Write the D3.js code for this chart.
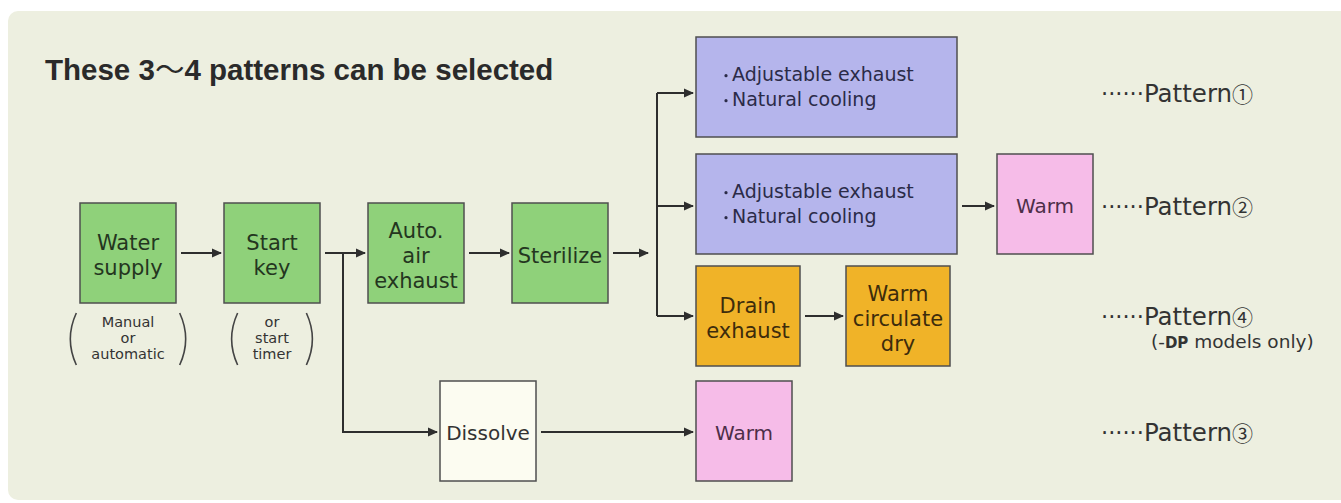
<!DOCTYPE html>
<html>
<head>
<meta charset="utf-8">
<script src="https://cdn.jsdelivr.net/npm/d3@7"></script>
<style>
  html, body { margin: 0; padding: 0; background: #fff; }
  svg { display: block; }
</style>
</head>
<body>
<svg id="chart" width="1341" height="503"></svg>
<script>
// ---- data ----
const title = ["These 3", "～", "4 patterns can be selected"];

const mainSteps = [
    { id: "water", lines: ["Water", "supply"], col: 0 },
    { id: "start", lines: ["Start", "key"], col: 1 },
    { id: "auto", lines: ["Auto.", "air", "exhaust"], col: 2 },
    { id: "sterilize", lines: ["Sterilize"], col: 3 },
    { id: "dissolve", lines: ["Dissolve"], col: 2.5, row: "p3", kind: "plain" }
];

const branchSteps = [
    { id: "p1", lines: ["Adjustable exhaust", "Natural cooling"], kind: "cool", row: "p1", slot: "a" },
    { id: "p2", lines: ["Adjustable exhaust", "Natural cooling"], kind: "cool", row: "p2", slot: "a" },
    { id: "warm2", lines: ["Warm"], kind: "warm", row: "p2", slot: "c" },
    { id: "drain", lines: ["Drain", "exhaust"], kind: "dry", row: "p4", slot: "a" },
    { id: "circ", lines: ["Warm", "circulate", "dry"], kind: "dry", row: "p4", slot: "b" },
    { id: "warm3", lines: ["Warm"], kind: "warm", row: "p3", slot: "a" }
];

const notes = [
    { under: "water", lines: ["Manual", "or", "automatic"] },
    { under: "start", lines: ["or", "start", "timer"] }
];

// straight arrows: [from, to]
const links = [
    ["water", "start"], ["start", "auto"], ["auto", "sterilize"],
    ["p2", "warm2"], ["drain", "circ"], ["dissolve", "warm3"]
];
// forked arrows: source -> several targets
const forks = [
    { from: "start", to: ["dissolve"], joinsMain: true },
    { from: "sterilize", to: ["p1", "p2", "drain"], joinsMain: false }
];

const patterns = [
    { row: "p1", num: "①" },
    { row: "p2", num: "②" },
    { row: "p4", num: "④", note: ["(-", "DP", " models only)"] },
    { row: "p3", num: "③" }
];

// ---- layout ----
const W = 1341, H = 503;
const mainX = d3.scaleLinear().domain([0, 1]).range([80, 224]);
const slotX = d3.scaleOrdinal().domain(["a", "b", "c"]).range([696, 846, 997]);
const rowTop = d3.scaleOrdinal().domain(["p1", "p2", "main", "p4", "p3"]).range([37, 154, 203, 266, 381]);
const rowMid = d3.scaleOrdinal().domain(["p1", "p2", "main", "p4", "p3"]).range([93, 206, 253, 316, 432]);
const boxW = { green: 96, plain: 96, cool: 261, warm: 96, dry: 104 };
const boxH = 100;
const fills = { green: "#8fd17a", plain: "#fcfcf1", cool: "#b5b5ec", warm: "#f6bce8", dry: "#f0b328" };
const inks = { green: "#24361f", plain: "#333333", cool: "#2b2b48", warm: "#4d2e48", dry: "#3d2c0c" };
const fontSize = { green: 21, plain: 20, cool: 19, warm: 20, dry: 21 };
const LATIN = "'DejaVu Sans', 'Noto Sans', sans-serif";
const CJK = "'Noto Sans CJK JP', 'DejaVu Sans', sans-serif";
const LINE = "#2e2e2e";

const boxes = new Map();
mainSteps.forEach(d => {
    const kind = d.kind || "green", row = d.row || "main";
    boxes.set(d.id, { ...d, kind, row, x: mainX(d.col), y: rowTop(row), w: boxW[kind], h: boxH });
});
branchSteps.forEach(d => {
    boxes.set(d.id, { ...d, x: slotX(d.slot), y: rowTop(d.row), w: boxW[d.kind], h: boxH });
});

const svg = d3.select("#chart").attr("viewBox", `0 0 ${W} ${H}`);

svg.append("defs").append("marker")
    .attr("id", "head")
    .attr("viewBox", "0 0 10 10")
    .attr("refX", 9).attr("refY", 5)
    .attr("markerUnits", "userSpaceOnUse")
    .attr("markerWidth", 10).attr("markerHeight", 10)
    .attr("orient", "auto")
    .append("path").attr("d", "M0,0.5 L10,5 L0,9.5 Z").attr("fill", LINE);

// panel
svg.append("rect").attr("x", 0).attr("y", 0).attr("width", W).attr("height", H).attr("fill", "#ffffff");
svg.append("rect")
    .attr("x", 8).attr("y", 11).attr("width", W + 20).attr("height", 489)
    .attr("rx", 10).attr("fill", "#edefe0");

// title
const t = svg.append("text")
    .attr("x", 45).attr("y", 80)
    .attr("font-family", "'Liberation Sans', Arial, sans-serif")
    .attr("font-weight", "bold").attr("font-size", 29.5).attr("fill", "#2a2a2a");
t.append("tspan").text(title[0]);
t.append("tspan").attr("font-family", CJK).attr("font-weight", "normal").text(title[1]);
t.append("tspan").text(title[2]);

// arrows
const g = svg.append("g").attr("fill", "none").attr("stroke", LINE).attr("stroke-width", 2);
const mid = b => rowMid(b.row);

links.forEach(([a, b]) => {
    const s = boxes.get(a), e = boxes.get(b);
    const y = mid(s);
    g.append("path")
        .attr("d", d3.line()([[s.x + s.w + 5, y], [e.x - 3, y]]))
        .attr("marker-end", "url(#head)");
});

forks.forEach(f => {
    const s = boxes.get(f.from);
    const y0 = mid(s);
    const x0 = s.x + s.w + 5;
    if (f.joinsMain) {
        // trunk leaves the main arrow partway
        const trunkX = x0 + 18;
        f.to.forEach(id => {
            const e = boxes.get(id);
            g.append("path")
                .attr("d", d3.line()([[trunkX, y0], [trunkX, mid(e)], [e.x - 3, mid(e)]]))
                .attr("marker-end", "url(#head)");
        });
    } else {
        const first = boxes.get(f.to[0]);
        const trunkX = first.x - 39;
        g.append("path")
            .attr("d", d3.line()([[x0, y0], [trunkX - 9, y0]]))
            .attr("marker-end", "url(#head)");
        const ys = f.to.map(id => mid(boxes.get(id)));
        g.append("path").attr("d", d3.line()([[trunkX, d3.min(ys)], [trunkX, d3.max(ys)]]));
        f.to.forEach(id => {
            const e = boxes.get(id);
            g.append("path")
                .attr("d", d3.line()([[trunkX, mid(e)], [e.x - 3, mid(e)]]))
                .attr("marker-end", "url(#head)");
        });
    }
});

// boxes
const nodeG = svg.selectAll("g.node")
    .data(Array.from(boxes.values()))
    .join("g").attr("class", "node");

nodeG.append("rect")
    .attr("x", d => d.x).attr("y", d => d.y)
    .attr("width", d => d.w).attr("height", d => d.h)
    .attr("fill", d => fills[d.kind])
    .attr("stroke", "#4f4f4f").attr("stroke-width", 1.5);

nodeG.each(function (d) {
    const fs = fontSize[d.kind];
    const lh = 25;
    const cy = d.y + d.h / 2 + (d.kind === "cool" ? 0 : 2);
    const n = d.lines.length;
    const node = d3.select(this);
    d.lines.forEach((line, i) => {
        const by = cy + (i - (n - 1) / 2) * lh + fs * 0.36;
        if (d.kind === "cool") {
            // bullet list, left aligned
            node.append("circle")
                .attr("cx", d.x + 30).attr("cy", by - fs * 0.3).attr("r", 1.6)
                .attr("fill", inks[d.kind]);
            node.append("text")
                .attr("x", d.x + 36).attr("y", by)
                .attr("font-family", LATIN).attr("font-size", fs)
                .attr("fill", inks[d.kind]).text(line);
        } else {
            node.append("text")
                .attr("x", d.x + d.w / 2).attr("y", by)
                .attr("text-anchor", "middle")
                .attr("font-family", LATIN).attr("font-size", fs)
                .attr("fill", inks[d.kind]).text(line);
        }
    });
});

// notes under boxes with round brackets
notes.forEach(nt => {
    const b = boxes.get(nt.under);
    const cx = b.x + b.w / 2;
    const top = b.y + b.h + 10;
    const txt = svg.append("text")
        .attr("font-family", LATIN).attr("font-size", 14.5)
        .attr("fill", "#333").attr("text-anchor", "middle");
    nt.lines.forEach((line, i) => {
        txt.append("tspan").attr("x", cx).attr("y", top + 14 + i * 16).text(line);
    });
    const half = txt.node().getBBox().width / 2 + 15;
    const bot = top + 52, midY = (top + bot) / 2;
    const lx = cx - half, rx = cx + half;
    svg.append("path")
        .attr("d", `M${lx},${top} Q${lx - 12},${midY} ${lx},${bot}`)
        .attr("fill", "none").attr("stroke", "#444").attr("stroke-width", 1.6);
    svg.append("path")
        .attr("d", `M${rx},${top} Q${rx + 12},${midY} ${rx},${bot}`)
        .attr("fill", "none").attr("stroke", "#444").attr("stroke-width", 1.6);
});

// pattern labels
patterns.forEach(p => {
    const y = rowMid(p.row);
    const txt = svg.append("text")
        .attr("x", 1101).attr("y", y + 9)
        .attr("font-family", LATIN).attr("font-size", 24.5).attr("fill", "#333");
    txt.append("tspan").attr("font-size", 22.5).text("······");
    txt.append("tspan").text("Pattern");
    txt.append("tspan").attr("font-family", CJK).attr("font-size", 21).text(p.num);
    if (p.note) {
        const nt = svg.append("text")
            .attr("x", 1151).attr("y", y + 32)
            .attr("font-family", LATIN).attr("font-size", 18.5).attr("fill", "#333");
        nt.append("tspan").text(p.note[0]);
        nt.append("tspan").attr("font-weight", "bold").attr("font-size", 15).text(p.note[1]);
        nt.append("tspan").text(p.note[2]);
    }
});
</script>
</body>
</html>
